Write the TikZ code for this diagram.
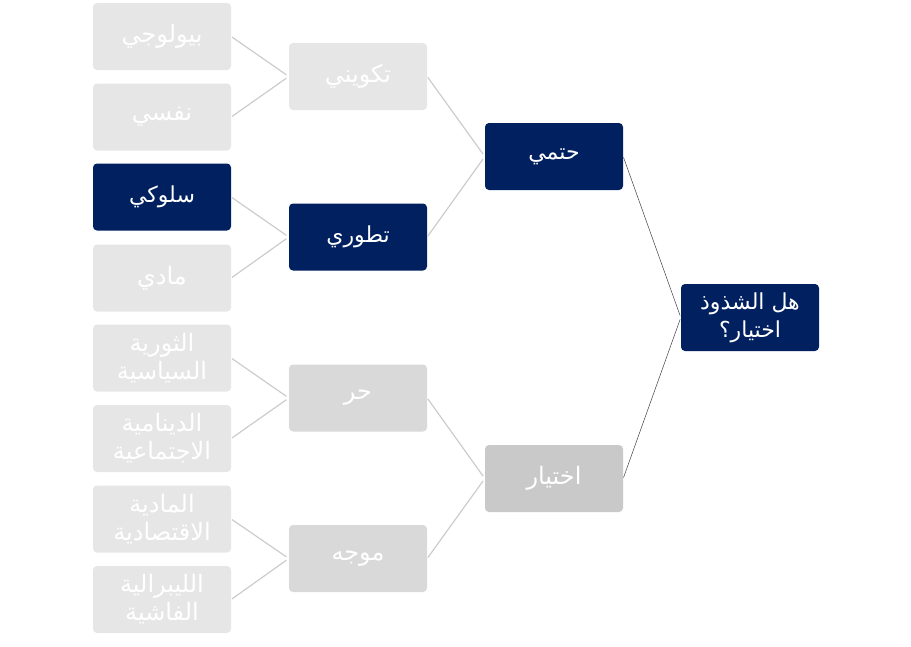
\documentclass[tikz,border=0pt]{standalone}
\usepackage{fontspec}
\newfontfamily\arabicfont[Script=Arabic]{DejaVu Sans}
\TeXXeTstate=1
\newcommand{\ar}[1]{\beginR #1\endR}
\definecolor{navy}{HTML}{002060}
\definecolor{gA}{HTML}{E6E6E6}
\definecolor{gB}{HTML}{D9D9D9}
\definecolor{gC}{HTML}{C9C9C9}
\definecolor{lnA}{HTML}{CCCCCC}
\definecolor{lnB}{HTML}{404040}
\tikzset{
  box/.style={minimum width=138pt, minimum height=67pt, inner sep=0pt, rounded corners=4pt,
    text=white, align=center, font=\arabicfont\fontsize{24}{28}\selectfont},
  bigbox/.style={box, font=\arabicfont\fontsize{22}{28}\selectfont},
  conn/.style={draw=lnA, line width=1.2pt, shorten <=1pt, shorten >=3pt},
  connB/.style={draw=lnB, line width=0.5pt, shorten <=1pt, shorten >=2pt}
}
\begin{document}
\begin{tikzpicture}[x=1pt,y=-1pt]
\useasboundingbox (0,0) rectangle (911,646);
% column 1
\node[box, fill=gA] (a1) at (162,36.5) {\ar{بيولوجي}};
\node[box, fill=gA] (a2) at (162,117) {\ar{نفسي}};
\node[bigbox, fill=navy] (a3) at (162,197) {\ar{سلوكي}};
\node[box, fill=gA] (a4) at (162,278) {\ar{مادي}};
\node[box, fill=gA] (a5) at (162,358) {\ar{الثورية}\\\ar{السياسية}};
\node[box, fill=gA] (a6) at (162,438.5) {\ar{الدينامية}\\\ar{الاجتماعية}};
\node[box, fill=gA] (a7) at (162,519) {\ar{المادية}\\\ar{الاقتصادية}};
\node[box, fill=gA] (a8) at (162,599.5) {\ar{الليبرالية}\\\ar{الفاشية}};
% column 2
\node[box, fill=gA] (b1) at (358,76.5) {\ar{تكويني}};
\node[bigbox, fill=navy] (b2) at (358,237) {\ar{تطوري}};
\node[box, fill=gB] (b3) at (358,398) {\ar{حر}};
\node[box, fill=gB] (b4) at (358,558.5) {\ar{موجه}};
% column 3
\node[bigbox, fill=navy] (c1) at (554,156.5) {\ar{حتمي}};
\node[box, fill=gC] (c2) at (554,478.5) {\ar{اختيار}};
% column 4
\node[bigbox, fill=navy] (d1) at (750,317.5) {\ar{هل الشذوذ}\\\ar{اختيار؟}};
% connectors
\draw[conn] (a1.east) -- (b1.west);
\draw[conn] (a2.east) -- (b1.west);
\draw[conn] (a3.east) -- (b2.west);
\draw[conn] (a4.east) -- (b2.west);
\draw[conn] (a5.east) -- (b3.west);
\draw[conn] (a6.east) -- (b3.west);
\draw[conn] (a7.east) -- (b4.west);
\draw[conn] (a8.east) -- (b4.west);
\draw[conn] (b1.east) -- (c1.west);
\draw[conn] (b2.east) -- (c1.west);
\draw[conn] (b3.east) -- (c2.west);
\draw[conn] (b4.east) -- (c2.west);
\draw[connB] (c1.east) -- (d1.west);
\draw[connB] (c2.east) -- (d1.west);
\end{tikzpicture}
\end{document}
